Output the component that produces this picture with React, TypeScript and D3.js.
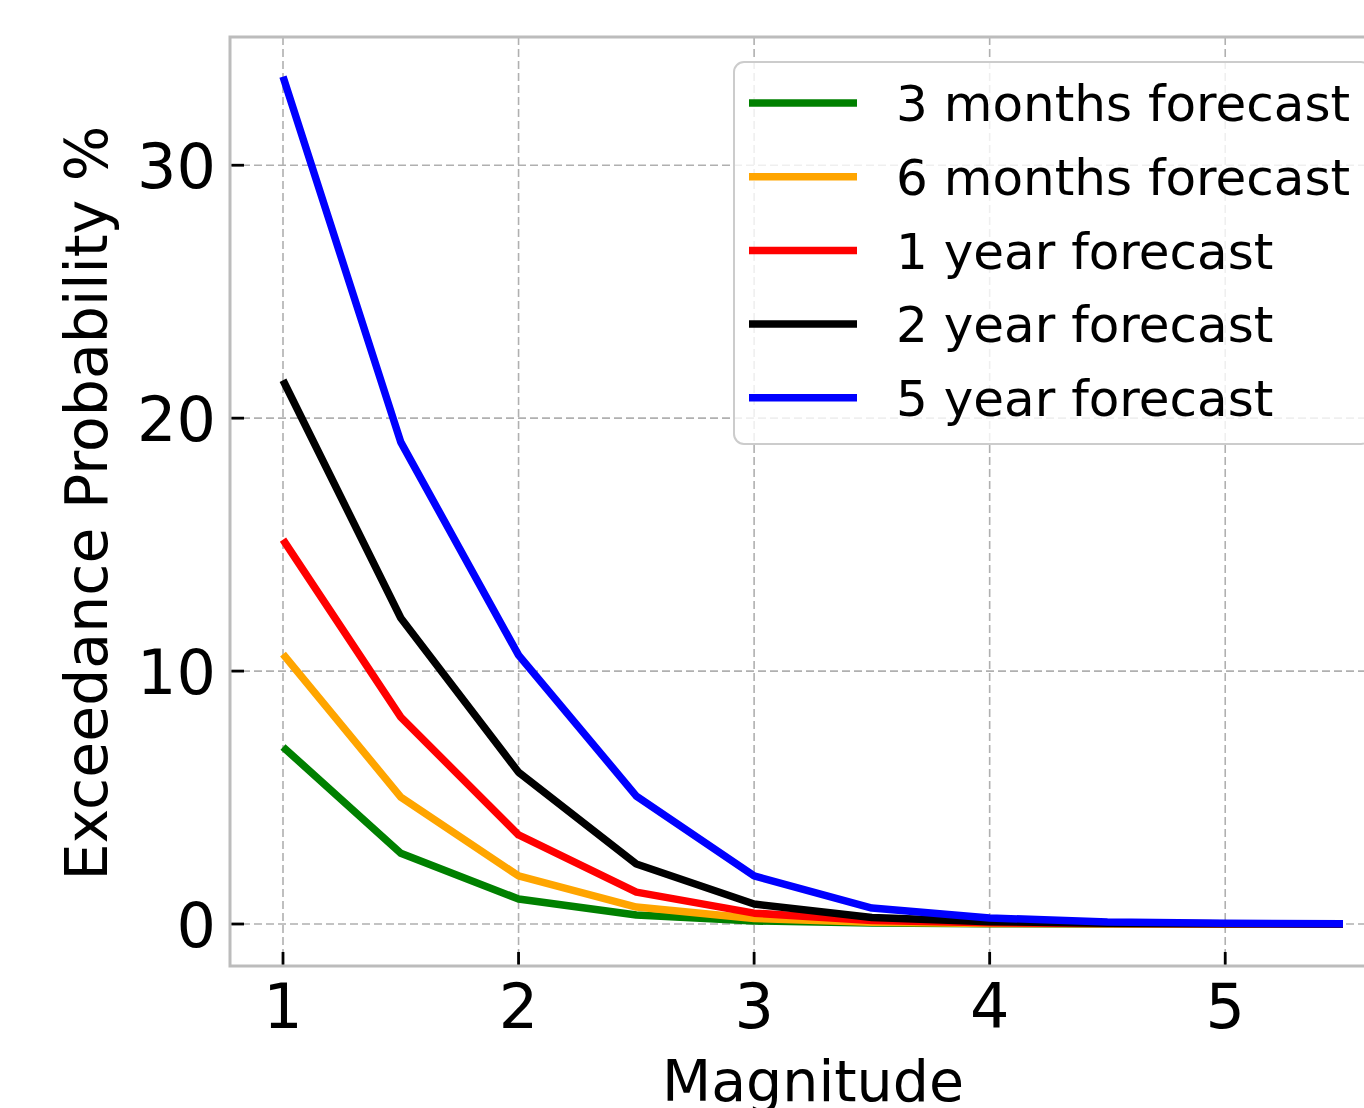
import React, { useEffect, useRef } from "react";
import * as d3 from "d3";

// magnitude thresholds
const magnitudes = [1, 1.5, 2, 2.5, 3, 3.5, 4, 4.5, 5, 5.5];

// exceedance probability (%) per forecast window
const threeMonths = [7.0, 2.8, 0.99, 0.36, 0.12, 0.04, 0.01, 0, 0, 0];
const sixMonths = [10.67, 5.02, 1.9, 0.67, 0.22, 0.07, 0.02, 0.01, 0, 0];
const oneYear = [15.2, 8.18, 3.52, 1.26, 0.43, 0.14, 0.05, 0.02, 0.01, 0];
const twoYear = [21.5, 12.1, 6.0, 2.37, 0.79, 0.26, 0.09, 0.03, 0.01, 0];
const fiveYear = [33.5, 19.05, 10.63, 5.06, 1.9, 0.63, 0.24, 0.08, 0.03, 0.01];

const seriesNames = [
  "3 months forecast",
  "6 months forecast",
  "1 year forecast",
  "2 year forecast",
  "5 year forecast",
];
const seriesColors = ["green", "orange", "red", "black", "blue"];

const xTicks = [1, 2, 3, 4, 5];
const yTicks = [0, 10, 20, 30];

const W = 1364;
const H = 1108;
const FONT = "DejaVu Sans, sans-serif";

export default function App() {
  const ref = useRef<SVGSVGElement>(null);

  useEffect(() => {
    const svg = d3.select(ref.current);
    svg.selectAll("*").remove();

    const left = 230, right = 1396, top = 37, bottom = 966;

    const x = d3.scaleLinear().domain([0.775, 5.725]).range([left, right]);
    const y = d3.scaleLinear().domain([-1.66, 35.07]).range([bottom, top]);

    const all = [threeMonths, sixMonths, oneYear, twoYear, fiveYear];

    // grid
    const grid = svg.append("g");
    grid.selectAll("line.gx")
      .data(xTicks)
      .enter()
      .append("line")
      .attr("x1", d => x(d)).attr("x2", d => x(d))
      .attr("y1", top).attr("y2", bottom)
      .attr("stroke", "#b0b0b0").attr("stroke-width", 1.6)
      .attr("stroke-dasharray", "8,4");
    grid.selectAll("line.gy")
      .data(yTicks)
      .enter()
      .append("line")
      .attr("y1", d => y(d)).attr("y2", d => y(d))
      .attr("x1", left).attr("x2", right)
      .attr("stroke", "#b0b0b0").attr("stroke-width", 1.6)
      .attr("stroke-dasharray", "8,4");

    // lines
    const line = d3.line<number>()
      .x((d, i) => x(magnitudes[i]))
      .y(d => y(d));

    svg.append("g")
      .selectAll("path")
      .data(all)
      .enter()
      .append("path")
      .attr("d", d => line(d))
      .attr("fill", "none")
      .attr("stroke", (d, i) => seriesColors[i])
      .attr("stroke-width", 7.5)
      .attr("stroke-linejoin", "round");

    // spines
    svg.append("rect")
      .attr("x", left).attr("y", top)
      .attr("width", right - left).attr("height", bottom - top)
      .attr("fill", "none")
      .attr("stroke", "#bcbcbc")
      .attr("stroke-width", 3);

    // ticks (inward)
    svg.append("g")
      .selectAll("line")
      .data(xTicks)
      .enter()
      .append("line")
      .attr("x1", d => x(d)).attr("x2", d => x(d))
      .attr("y1", bottom - 1.5).attr("y2", bottom - 14)
      .attr("stroke", "black").attr("stroke-width", 2.8);
    svg.append("g")
      .selectAll("line")
      .data(yTicks)
      .enter()
      .append("line")
      .attr("y1", d => y(d)).attr("y2", d => y(d))
      .attr("x1", left + 1.5).attr("x2", left + 14)
      .attr("stroke", "black").attr("stroke-width", 2.8);

    // tick labels
    const tickFs = 62;
    svg.append("g")
      .selectAll("text")
      .data(xTicks)
      .enter()
      .append("text")
      .attr("x", d => x(d))
      .attr("y", 1028)
      .attr("text-anchor", "middle")
      .attr("font-family", FONT)
      .attr("font-size", tickFs)
      .text(d => d3.format("d")(d));
    svg.append("g")
      .selectAll("text")
      .data(yTicks)
      .enter()
      .append("text")
      .attr("x", 216)
      .attr("y", d => y(d) + tickFs * 0.729 / 2)
      .attr("text-anchor", "end")
      .attr("font-family", FONT)
      .attr("font-size", tickFs)
      .text(d => d3.format("d")(d));

    // axis labels
    svg.append("text")
      .attr("x", (left + right) / 2)
      .attr("y", 1101)
      .attr("text-anchor", "middle")
      .attr("font-family", FONT)
      .attr("font-size", 57)
      .text("Magnitude");
    svg.append("text")
      .attr("transform", "translate(107,503) rotate(-90)")
      .attr("text-anchor", "middle")
      .attr("font-family", FONT)
      .attr("font-size", 58.5)
      .text("Exceedance Probability %");

    // legend
    const legFs = 50;
    const legTop = 62, legLeft = 734, rowH = 73.7, firstRow = 103;
    const leg = svg.append("g");
    leg.append("rect")
      .attr("x", legLeft).attr("y", legTop)
      .attr("width", 1371 - legLeft).attr("height", 444 - legTop)
      .attr("rx", 10)
      .attr("fill", "white").attr("fill-opacity", 0.8)
      .attr("stroke", "#cccccc").attr("stroke-width", 2);
    const rows = leg.selectAll("g.row")
      .data(seriesNames)
      .enter()
      .append("g")
      .attr("transform", (d, i) => `translate(0,${firstRow + i * rowH})`);
    rows.append("line")
      .attr("x1", 749).attr("x2", 857)
      .attr("y1", 0).attr("y2", 0)
      .attr("stroke", (d, i) => seriesColors[i])
      .attr("stroke-width", 7.5);
    rows.append("text")
      .attr("x", 896)
      .attr("y", legFs * 0.729 / 2)
      .attr("font-family", FONT)
      .attr("font-size", legFs)
      .text(d => d);
  }, []);

  return (
    <svg
      ref={ref}
      width={W}
      height={H}
      viewBox={`0 0 ${W} ${H}`}
      style={{ position: "absolute", left: 0, top: 0, background: "white" }}
    />
  );
}
